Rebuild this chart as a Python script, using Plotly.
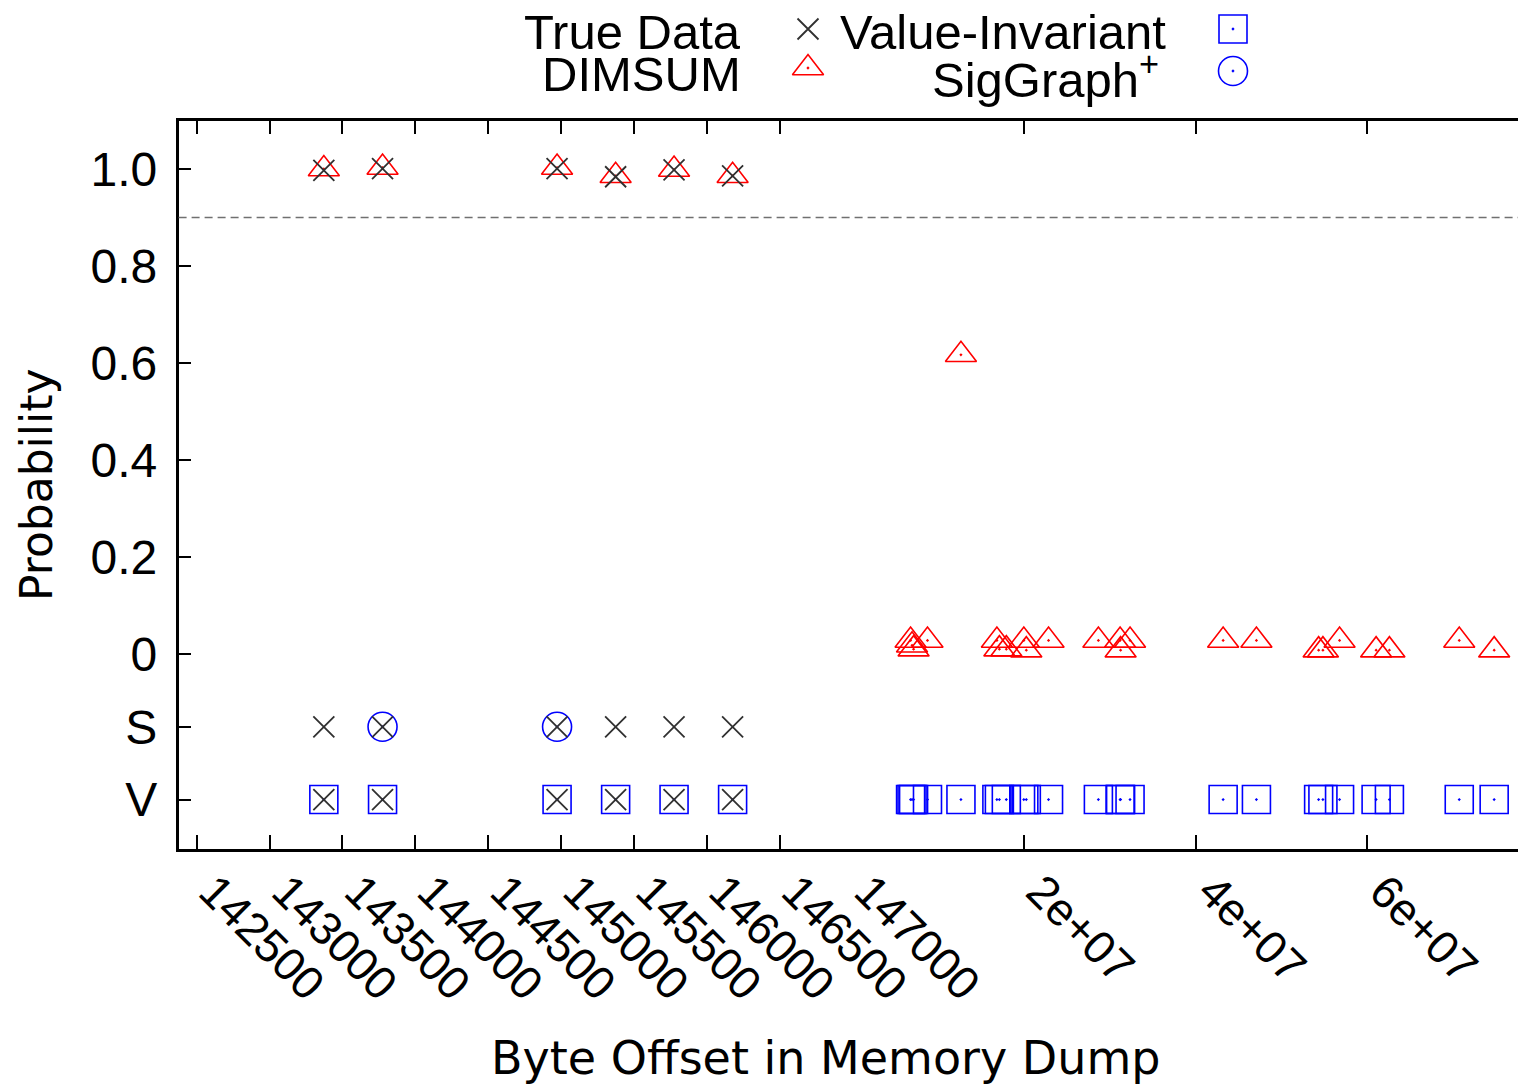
import plotly.graph_objects as go

# ---------------- data ----------------
LEFT_OFFSETS = [143372, 143775, 144973, 145375, 145776, 146178]
TRUE_DATA_PROB = [0.997, 1.001, 1.001, 0.984, 0.998, 0.986]
DIMSUM_LEFT_PROB = [1.000, 1.003, 1.003, 0.986, 0.999, 0.986]
SIGGRAPH_OFFSETS = [143775, 144973]

RIGHT_OFFSETS = [6.77e6, 6.94e6, 7.12e6, 8.74e6, 12.64e6, 16.83e6, 17.12e6, 17.93e6,
                 19.97e6, 20.26e6, 22.85e6, 28.66e6, 31.19e6, 31.25e6, 32.35e6,
                 43.2e6, 47.08e6, 54.33e6, 54.83e6, 56.77e6, 61.03e6, 62.58e6,
                 70.72e6, 74.79e6]
DIMSUM_RIGHT_PROB = [0.028, 0.018, 0.010, 0.028, 0.617, 0.028, 0.010, 0.010,
                     0.028, 0.008, 0.028, 0.028, 0.028, 0.008, 0.028,
                     0.028, 0.028, 0.008, 0.008, 0.028, 0.008, 0.008,
                     0.028, 0.008]

THRESHOLD = 0.9
S_ROW = -0.15
V_ROW = -0.30
Y_TICK_VALS = [1.0, 0.8, 0.6, 0.4, 0.2, 0.0, S_ROW, V_ROW]
Y_TICK_TEXT = ["1.0", "0.8", "0.6", "0.4", "0.2", "0", "S", "V"]
LEFT_TICKS = [142500, 143000, 143500, 144000, 144500, 145000, 145500, 146000, 146500, 147000]
LEFT_TICK_TEXT = [str(v) for v in LEFT_TICKS]
RIGHT_TICKS = [2e7, 4e7, 6e7]
RIGHT_TICK_TEXT = ["2e+07", "4e+07", "6e+07"]

SERIES_NAMES = ["True Data", "DIMSUM", "Value-Invariant", "SigGraph<sup>+</sup>"]

# ---------------- layout constants (pixels of the page) ----------------
PAGE_W, PAGE_H = 1526, 1089
BODY_MARGIN = 8                      # default page margin around the figure
W, H = PAGE_W - BODY_MARGIN, PAGE_H - BODY_MARGIN
PL, PBRK, PT, PB = 178.6, 852.5, 120.5, 849.0

BLACK = "#303030"
RED = "#ff0000"
BLUE = "#0000ff"
TICK_FONT = dict(family="Liberation Sans, Arial, sans-serif", size=48, color="black")
XTICK_FONT = dict(family="Liberation Sans, Arial, sans-serif", size=46, color="black")
TITLE_FONT = dict(family="DejaVu Sans, sans-serif", size=46, color="black")


def px2fx(px):
    return min(1.0, (px - BODY_MARGIN) / W)


def py2fy(py):
    return 1 - (py - BODY_MARGIN) / H


X_MARK = dict(symbol="x-thin-open", size=21, color=BLACK, line=dict(color=BLACK, width=1.8))
TRI_MARK = dict(symbol="triangle-up-open-dot", size=27, color=RED, line=dict(color=RED, width=1.6))
SQ_MARK = dict(symbol="square-open-dot", size=28, color=BLUE, line=dict(color=BLUE, width=1.6))
CI_MARK = dict(symbol="circle-open-dot", size=29, color=BLUE, line=dict(color=BLUE, width=1.6))

fig = go.Figure()

# Value-Invariant (V row)
fig.add_trace(go.Scatter(x=LEFT_OFFSETS, y=[V_ROW] * len(LEFT_OFFSETS), mode="markers",
                         marker=SQ_MARK, xaxis="x", yaxis="y", showlegend=False))
fig.add_trace(go.Scatter(x=RIGHT_OFFSETS, y=[V_ROW] * len(RIGHT_OFFSETS), mode="markers",
                         marker=SQ_MARK, xaxis="x2", yaxis="y", showlegend=False))
# SigGraph+ (S row)
fig.add_trace(go.Scatter(x=SIGGRAPH_OFFSETS, y=[S_ROW] * len(SIGGRAPH_OFFSETS), mode="markers",
                         marker=CI_MARK, xaxis="x", yaxis="y", showlegend=False))
# DIMSUM
fig.add_trace(go.Scatter(x=LEFT_OFFSETS, y=DIMSUM_LEFT_PROB, mode="markers",
                         marker=TRI_MARK, xaxis="x", yaxis="y", showlegend=False))
fig.add_trace(go.Scatter(x=RIGHT_OFFSETS, y=DIMSUM_RIGHT_PROB, mode="markers",
                         marker=TRI_MARK, xaxis="x2", yaxis="y", showlegend=False))
# True data (probability row, S row, V row)
fig.add_trace(go.Scatter(x=LEFT_OFFSETS, y=TRUE_DATA_PROB, mode="markers",
                         marker=X_MARK, xaxis="x", yaxis="y", showlegend=False))
fig.add_trace(go.Scatter(x=LEFT_OFFSETS, y=[S_ROW] * len(LEFT_OFFSETS), mode="markers",
                         marker=X_MARK, xaxis="x", yaxis="y", showlegend=False))
fig.add_trace(go.Scatter(x=LEFT_OFFSETS, y=[V_ROW] * len(LEFT_OFFSETS), mode="markers",
                         marker=X_MARK, xaxis="x", yaxis="y", showlegend=False))

# ---------------- legend (gnuplot style: text then key) ----------------
LEGEND_KEYS = [  # (text right edge px, text center y px, key x px, key y px, marker)
    (743, 32, 808, 29, X_MARK),
    (743, 74, 808, 68, TRI_MARK),
    (1168, 32, 1233, 29, SQ_MARK),
    (1161, 76, 1233, 71, CI_MARK),
]
annotations = []
for name, (tx, ty, kx, ky, mk) in zip(SERIES_NAMES, LEGEND_KEYS):
    fig.add_trace(go.Scatter(x=[kx], y=[ky], mode="markers", marker=mk,
                             xaxis="x3", yaxis="y3", showlegend=False, hoverinfo="skip"))
    annotations.append(dict(text=name, x=px2fx(tx), y=py2fy(ty), xref="paper", yref="paper",
                            xanchor="right", yanchor="middle", showarrow=False,
                            font=dict(family="Liberation Sans, Arial, sans-serif", size=49, color="black")))

annotations.append(dict(text="Byte Offset in Memory Dump", x=px2fx(826), y=py2fy(1058),
                        xref="paper", yref="paper", xanchor="center", yanchor="middle",
                        showarrow=False, font=TITLE_FONT))
annotations.append(dict(text="Probability", x=px2fx(37), y=py2fy(485), textangle=-90,
                        xref="paper", yref="paper", xanchor="center", yanchor="middle",
                        showarrow=False, font=dict(family="DejaVu Sans, sans-serif", size=44, color="black")))

common_x = dict(showgrid=False, zeroline=False, showline=True, linecolor="black", linewidth=2.5,
                mirror="ticks", ticks="inside", ticklen=14, tickwidth=2, tickcolor="black",
                tickangle=45, tickfont=XTICK_FONT, ticklabelstandoff=-6, ticklabelshift=16,
                automargin=False)

fig.update_layout(
    template="none",
    width=W, height=H,
    margin=dict(l=0, r=0, t=0, b=0, pad=0, autoexpand=False),
    paper_bgcolor="white", plot_bgcolor="rgba(0,0,0,0)",
    showlegend=False,
    xaxis=dict(domain=[px2fx(PL), px2fx(PBRK)], range=[142375, 147001], anchor="y",
               tickmode="array", tickvals=LEFT_TICKS, ticktext=LEFT_TICK_TEXT, **common_x),
    xaxis2=dict(domain=[px2fx(PBRK), 1.0], range=[0, 7.85e7], anchor="y",
                tickmode="array", tickvals=RIGHT_TICKS, ticktext=RIGHT_TICK_TEXT, **common_x),
    yaxis=dict(domain=[py2fy(PB), py2fy(PT)], range=[-0.402, 1.1], anchor="x",
               showgrid=False, zeroline=False, showline=True, linecolor="black", linewidth=2.5,
               mirror=False, ticks="inside", ticklen=13, tickwidth=2, tickcolor="black",
               tickmode="array", tickvals=Y_TICK_VALS, ticktext=Y_TICK_TEXT,
               tickfont=TICK_FONT, ticklabelstandoff=9, automargin=False),
    xaxis3=dict(domain=[0, 1], range=[BODY_MARGIN, BODY_MARGIN + W], anchor="y3", visible=False,
                fixedrange=True, automargin=False),
    yaxis3=dict(domain=[0, 1], range=[BODY_MARGIN + H, BODY_MARGIN], anchor="x3", visible=False,
                fixedrange=True, automargin=False),
    annotations=annotations,
    shapes=[dict(type="line", xref="paper", yref="y", x0=px2fx(PL), x1=1.0,
                 y0=THRESHOLD, y1=THRESHOLD,
                 line=dict(color="#707070", width=1.6, dash="8px,5px"))],
)

fig.write_html("out.html")
